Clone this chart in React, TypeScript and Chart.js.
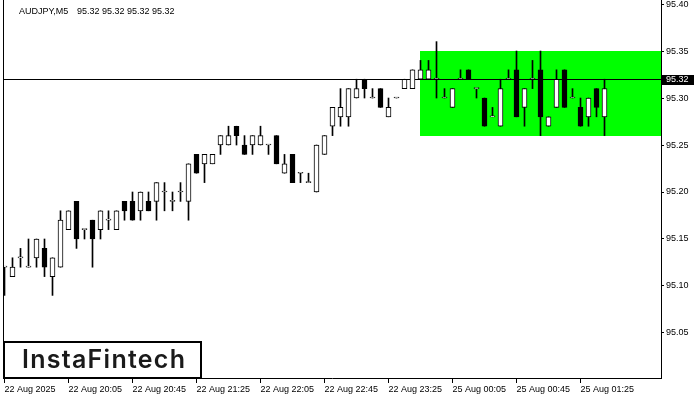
import React, { useEffect, useRef } from "react";
import { Chart, registerables } from "chart.js";

Chart.register(...registerables);

const symbolLabel = "AUDJPY,M5";
const quoteLabel = "95.32 95.32 95.32 95.32";
const bidPrice = 95.32;
const logoText = "InstaFintech";

const openPrices = [
  95.12, 95.11, 95.13, 95.12, 95.13, 95.14, 95.11, 95.12, 95.16, 95.19,
  95.16, 95.17, 95.16, 95.17, 95.16, 95.19, 95.19, 95.18, 95.19, 95.19,
  95.20, 95.19, 95.20, 95.19, 95.24, 95.23, 95.23, 95.25, 95.25, 95.27,
  95.25, 95.25, 95.25, 95.25, 95.26, 95.22, 95.24, 95.22, 95.21, 95.20,
  95.24, 95.27, 95.28, 95.28, 95.30, 95.32, 95.30, 95.31, 95.28, 95.30,
  95.31, 95.31, 95.32, 95.32, 95.32, 95.30, 95.29, 95.32, 95.33, 95.31,
  95.30, 95.28, 95.27, 95.32, 95.33, 95.29, 95.32, 95.33, 95.27, 95.29,
  95.33, 95.30, 95.29, 95.28, 95.31, 95.28,
];
const highPrices = [
  95.12, 95.13, 95.14, 95.15, 95.15, 95.15, 95.13, 95.18, 95.18, 95.19,
  95.16, 95.17, 95.18, 95.18, 95.18, 95.19, 95.20, 95.20, 95.20, 95.21,
  95.21, 95.20, 95.21, 95.23, 95.24, 95.24, 95.24, 95.26, 95.27, 95.27,
  95.26, 95.26, 95.27, 95.25, 95.26, 95.24, 95.24, 95.22, 95.22, 95.25,
  95.26, 95.29, 95.31, 95.31, 95.32, 95.32, 95.31, 95.31, 95.30, 95.30,
  95.32, 95.33, 95.34, 95.34, 95.36, 95.31, 95.31, 95.33, 95.33, 95.31,
  95.30, 95.29, 95.32, 95.33, 95.35, 95.31, 95.34, 95.35, 95.28, 95.33,
  95.33, 95.31, 95.30, 95.30, 95.31, 95.32,
];
const lowPrices = [
  95.09, 95.11, 95.12, 95.12, 95.12, 95.11, 95.09, 95.12, 95.16, 95.14,
  95.15, 95.12, 95.15, 95.16, 95.16, 95.17, 95.17, 95.17, 95.18, 95.17,
  95.18, 95.18, 95.19, 95.17, 95.22, 95.21, 95.23, 95.24, 95.25, 95.25,
  95.24, 95.24, 95.25, 95.24, 95.23, 95.22, 95.21, 95.21, 95.21, 95.20,
  95.24, 95.26, 95.27, 95.27, 95.30, 95.30, 95.30, 95.29, 95.28, 95.30,
  95.31, 95.31, 95.32, 95.32, 95.30, 95.30, 95.29, 95.32, 95.32, 95.30,
  95.27, 95.28, 95.27, 95.32, 95.28, 95.27, 95.31, 95.26, 95.27, 95.29,
  95.29, 95.30, 95.27, 95.27, 95.28, 95.26,
];
const closePrices = [
  95.12, 95.12, 95.13, 95.12, 95.15, 95.12, 95.13, 95.17, 95.18, 95.15,
  95.16, 95.15, 95.18, 95.17, 95.18, 95.18, 95.17, 95.20, 95.18, 95.21,
  95.20, 95.19, 95.20, 95.23, 95.22, 95.24, 95.24, 95.26, 95.26, 95.26,
  95.24, 95.26, 95.26, 95.25, 95.23, 95.23, 95.21, 95.22, 95.21, 95.25,
  95.26, 95.29, 95.29, 95.31, 95.31, 95.31, 95.30, 95.29, 95.29, 95.30,
  95.32, 95.33, 95.33, 95.33, 95.32, 95.30, 95.31, 95.32, 95.32, 95.31,
  95.27, 95.28, 95.31, 95.32, 95.28, 95.31, 95.32, 95.28, 95.28, 95.32,
  95.29, 95.30, 95.27, 95.30, 95.29, 95.31,
];

const timeTickIndex = [0, 8, 16, 24, 32, 40, 48, 56, 64, 72];
const timeTickLabels = [
  "22 Aug 2025",
  "22 Aug 20:05",
  "22 Aug 20:45",
  "22 Aug 21:25",
  "22 Aug 22:05",
  "22 Aug 22:45",
  "22 Aug 23:25",
  "25 Aug 00:05",
  "25 Aug 00:45",
  "25 Aug 01:25",
];
const priceTicks = [95.05, 95.1, 95.15, 95.2, 95.25, 95.3, 95.35, 95.4];

const zoneTop = 95.35;
const zoneBottom = 95.26;
const zoneStartBar = 51.875;

const yMin = 95.0021;
const yMax = 95.4043;
const xMin = -0.1875;
const xMax = 82.0625;

const tickFont = { family: "'Liberation Sans', Arial, sans-serif", size: 9 };

const overlayPlugin = {
  id: "mtOverlay",
  beforeDatasetsDraw(chart: any) {
    const { ctx, chartArea: a, scales } = chart;
    const x = scales.x;
    const y = scales.y;
    ctx.save();
    const zx = Math.round(x.getPixelForValue(zoneStartBar));
    const zt = Math.round(y.getPixelForValue(zoneTop));
    const zb = Math.round(y.getPixelForValue(zoneBottom));
    ctx.fillStyle = "#00ff00";
    ctx.fillRect(zx, zt, a.right - zx, zb - zt);
    const by = Math.round(y.getPixelForValue(bidPrice)) + 0.5;
    ctx.strokeStyle = "#000";
    ctx.lineWidth = 1;
    ctx.beginPath();
    ctx.moveTo(a.left, by);
    ctx.lineTo(a.right, by);
    ctx.stroke();
    ctx.restore();
  },
  afterDraw(chart: any) {
    const { ctx, chartArea: a, scales } = chart;
    const y = scales.y;
    ctx.save();
    ctx.strokeStyle = "#000";
    ctx.lineWidth = 1;
    ctx.beginPath();
    ctx.moveTo(a.left + 0.5, a.top);
    ctx.lineTo(a.left + 0.5, a.bottom);
    ctx.stroke();

    const by = Math.round(y.getPixelForValue(bidPrice));
    ctx.fillStyle = "#000";
    ctx.fillRect(a.right + 1, by - 4, 32, 10);
    ctx.fillStyle = "#fff";
    ctx.font = "9px 'Liberation Sans', Arial, sans-serif";
    ctx.textBaseline = "middle";
    ctx.textAlign = "left";
    ctx.fillText(bidPrice.toFixed(2), a.right + 5, by + 1);

    ctx.fillStyle = "#000";
    ctx.textBaseline = "alphabetic";
    ctx.fillText(symbolLabel, 19, 14);
    ctx.fillText(quoteLabel, 77, 14);

    ctx.fillStyle = "#fff";
    ctx.fillRect(3, 341, 198, 37);
    ctx.strokeStyle = "#000";
    ctx.lineWidth = 2;
    ctx.strokeRect(4, 342, 197, 36);
    ctx.fillStyle = "#1a1a1a";
    ctx.font = "600 25px Inter, 'Noto Sans', sans-serif";
    const w = ctx.measureText(logoText).width;
    const spacing = Math.max(0, (163 - w) / (logoText.length - 1));
    (ctx as any).letterSpacing = spacing.toFixed(2) + "px";
    ctx.fillText(logoText, 22, 368);
    ctx.restore();
  },
};

export default function App() {
  const canvasRef = useRef<HTMLCanvasElement | null>(null);

  useEffect(() => {
    const canvas = canvasRef.current;
    if (!canvas) return;
    const idx = openPrices.map((_, i) => i);
    const bodyData = idx.map((i) => ({ x: i, y: [openPrices[i], closePrices[i]] }));
    const wickData = idx.map((i) => ({ x: i, y: [lowPrices[i], highPrices[i]] }));
    const bodyColors = idx.map((i) => (closePrices[i] >= openPrices[i] ? "#ffffff" : "#000000"));

    const chart = new Chart(canvas, {
      type: "bar",
      data: {
        datasets: [
          {
            data: bodyData as any,
            backgroundColor: bodyColors,
            borderColor: "#000",
            borderWidth: 1,
            borderSkipped: false,
            barThickness: 5,
            grouped: false,
            minBarLength: 1,
            order: 0,
          } as any,
          {
            data: wickData as any,
            backgroundColor: "#000",
            borderWidth: 0,
            barThickness: 1,
            grouped: false,
            order: 1,
          } as any,
        ],
      },
      options: {
        animation: false,
        responsive: false,
        devicePixelRatio: 1,
        events: [],
        layout: { padding: { left: 3, top: 0, right: 0, bottom: 0 }, autoPadding: false } as any,
        plugins: {
          legend: { display: false },
          tooltip: { enabled: false },
          title: { display: false },
        },
        scales: {
          x: {
            type: "linear",
            min: xMin,
            max: xMax,
            offset: false,
            grid: {
              display: true,
              drawOnChartArea: false,
              drawTicks: true,
              tickLength: 5,
              tickColor: "#000",
              offset: false,
            },
            border: { display: true, color: "#000", width: 1 },
            ticks: {
              autoSkip: false,
              maxRotation: 0,
              minRotation: 0,
              align: "start",
              padding: 1,
              color: "#000",
              font: tickFont,
              callback: (value: any) => {
                const k = timeTickIndex.indexOf(Math.round(Number(value)));
                return k >= 0 ? timeTickLabels[k] : "";
              },
            },
            afterBuildTicks: (s: any) => {
              s.ticks = timeTickIndex.map((v) => ({ value: v }));
            },
            afterFit: (s: any) => {
              s.height = 22;
              s.paddingLeft = 0;
              s.paddingRight = 0;
              s.paddingTop = 0;
              s.paddingBottom = 0;
            },
          } as any,
          y: {
            type: "linear",
            position: "right",
            min: yMin,
            max: yMax,
            beginAtZero: false,
            grid: {
              display: true,
              drawOnChartArea: false,
              drawTicks: true,
              tickLength: 3,
              tickColor: "#000",
            },
            border: { display: true, color: "#000", width: 1 },
            ticks: {
              autoSkip: false,
              padding: 2,
              color: "#000",
              font: tickFont,
              callback: (value: any) => Number(value).toFixed(2),
            },
            afterBuildTicks: (s: any) => {
              s.ticks = priceTicks.map((v) => ({ value: v }));
            },
            afterFit: (s: any) => {
              s.width = 39;
              s.paddingLeft = 0;
              s.paddingRight = 0;
              s.paddingTop = 0;
              s.paddingBottom = 0;
            },
          } as any,
        },
      },
      plugins: [overlayPlugin],
    });
    return () => chart.destroy();
  }, []);

  return (
    <div style={{ position: "absolute", left: 0, top: 0, width: 700, height: 400, background: "#fff" }}>
      <canvas ref={canvasRef} width={700} height={400} style={{ display: "block" }} />
    </div>
  );
}
